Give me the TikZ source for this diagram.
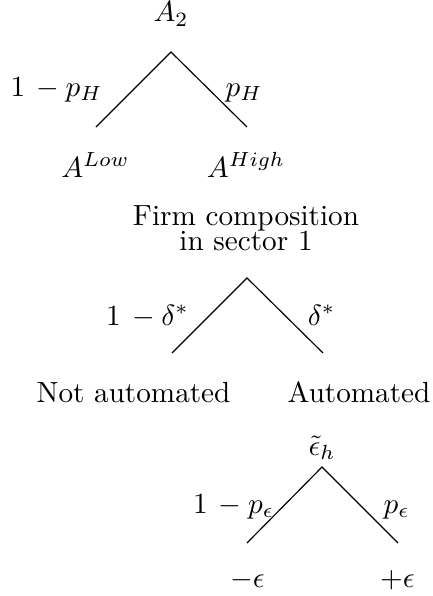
\documentclass[tikz,border=0pt]{standalone}
\begin{document}
\begin{tikzpicture}[x=0.3426pt,y=-0.3426pt,
  lbl/.style={inner sep=0pt,outer sep=0pt,anchor=base},
  branch/.style={line width=0.4pt}]
\useasboundingbox (0,0) rectangle (433,596);
% tree 1
\coordinate (t1) at (171,52);
\coordinate (t1l) at (96,127);
\coordinate (t1r) at (247,127);
\draw[branch] (t1l) -- (t1) -- (t1r);
\node[lbl] (a2) at (171,22) {$A_2$};
\node[lbl] (ph1) at (56.5,96) {$1\mkern3mu - p_H$};
\node[lbl] (ph) at (244,96) {$p_H$};
\node[lbl] (alow) at (95.5,177) {$A^{Low}$};
\node[lbl] (ahigh) at (246,177) {$A^{High}$};
% tree 2
\coordinate (t2) at (247,278);
\coordinate (t2l) at (172,353);
\coordinate (t2r) at (323,353);
\draw[branch] (t2l) -- (t2) -- (t2r);
\node[lbl] (firm1) at (246,225) {Firm composition};
\node[lbl] (firm2) at (246,250) {in sector 1};
\node[lbl] (d1) at (147.5,325) {$1\mkern3mu - \delta^*$};
\node[lbl] (d) at (321.5,325) {$\delta^*$};
\node[lbl] (notaut) at (133.5,402) {Not automated};
\node[lbl] (aut) at (359,402) {Automated};
% tree 3
\coordinate (t3) at (322,467);
\coordinate (t3l) at (247,543);
\coordinate (t3r) at (398,543);
\draw[branch] (t3l) -- (t3) -- (t3r);
\node[lbl] (eps) at (322,455) {$\tilde{\epsilon}_h$};
\node[lbl] (pe1) at (233.5,513) {$1\mkern3mu - p_\epsilon$};
\node[lbl] (pe) at (396.5,513) {$p_\epsilon$};
\node[lbl] (me) at (247.5,587) {$-\epsilon$};
\node[lbl] (pl) at (397.5,587) {$+\epsilon$};
\end{tikzpicture}
\end{document}
